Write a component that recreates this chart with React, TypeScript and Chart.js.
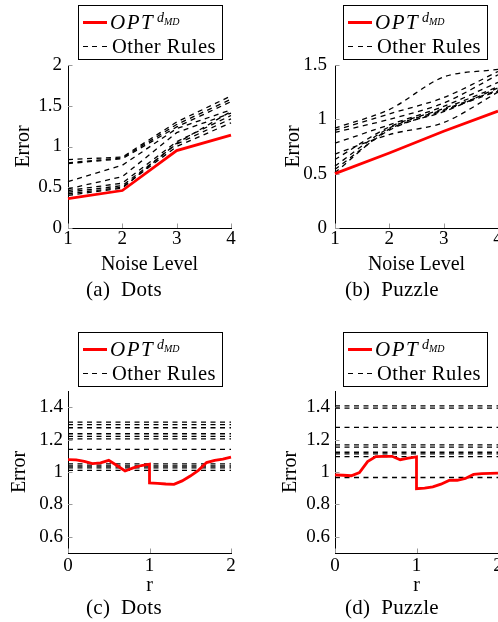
import React, { useEffect, useRef } from "react";
import { Chart, registerables } from "chart.js";

Chart.register(...registerables);

const SERIF = "'Liberation Serif', 'DejaVu Serif', serif";
const RED = "#ff0000";

// ---------- (a) Dots: error vs noise level ----------
const noiseLevels = [1, 2, 3, 4];
const noiseTickLabels = ["1", "2", "3", "4"];
const dotsNoiseOpt = [0.36, 0.46, 0.95, 1.14];
const dotsNoiseOthers = [
  [0.84, 0.87, 1.3, 1.62],
  [0.8, 0.86, 1.27, 1.58],
  [0.79, 0.85, 1.24, 1.55],
  [0.57, 0.77, 1.22, 1.45],
  [0.48, 0.63, 1.17, 1.41],
  [0.46, 0.55, 1.06, 1.38],
  [0.44, 0.52, 1.03, 1.34],
  [0.42, 0.5, 1.0, 1.29],
  [0.4, 0.49, 1.04, 1.43],
];
const dotsNoiseYTicks = [0, 0.5, 1, 1.5, 2];
const dotsNoiseYLabels = ["0", "0.5", "1", "1.5", "2"];

// ---------- (b) Puzzle: error vs noise level ----------
const puzzleNoiseOpt = [0.5, 0.69, 0.89, 1.075];
const puzzleNoiseOthers = [
  [0.92, 1.09, 1.39, 1.46],
  [0.9, 1.05, 1.2, 1.44],
  [0.88, 1.0, 1.15, 1.41],
  [0.78, 0.95, 1.12, 1.34],
  [0.68, 0.86, 0.97, 1.25],
  [0.63, 0.93, 1.1, 1.3],
  [0.57, 0.92, 1.09, 1.27],
  [0.54, 0.9, 1.08, 1.26],
  [0.51, 0.91, 1.07, 1.29],
];
const puzzleNoiseYTicks = [0, 0.5, 1, 1.5];
const puzzleNoiseYLabels = ["0", "0.5", "1", "1.5"];

// ---------- (c)/(d): error vs r ----------
const rValues = [0, 0.1, 0.2, 0.3, 0.4, 0.5, 0.6, 0.7, 0.8, 0.9, 1.0, 1.0, 1.1, 1.2, 1.3, 1.4, 1.5, 1.6, 1.7, 1.8, 1.9, 2.0];
const rTicks = [0, 1, 2];
const rTickLabels = ["0", "1", "2"];
const rYTicks = [0.6, 0.8, 1, 1.2, 1.4];
const rYLabels = ["0.6", "0.8", "1", "1.2", "1.4"];

const dotsROpt = [1.076, 1.075, 1.065, 1.052, 1.056, 1.072, 1.04, 1.006, 1.025, 1.04, 1.048, 0.932, 0.93, 0.926, 0.924, 0.945, 0.975, 1.01, 1.058, 1.072, 1.08, 1.092];
const dotsROtherLevels = [1.308, 1.293, 1.273, 1.236, 1.22, 1.205, 1.14, 1.05, 1.037, 1.025, 1.01];

const puzzleROpt = [0.982, 0.98, 0.977, 0.997, 1.064, 1.095, 1.097, 1.097, 1.076, 1.085, 1.093, 0.897, 0.9, 0.908, 0.925, 0.948, 0.949, 0.96, 0.985, 0.99, 0.991, 0.993];
const puzzleROtherLevels = [1.408, 1.394, 1.275, 1.168, 1.153, 1.122, 1.112, 1.095, 0.966];

type Series = { x: number[]; y: number[] };

type PanelSpec = {
  left: number; top: number; width: number; height: number;
  area: { l: number; t: number; r: number; b: number };
  xHeight: number; xTitlePad: number; xTickPad: number;
  yTitlePad: number; yTickPad: number;
  xMin: number; xMax: number; xTicks: number[]; xTickLabels: string[];
  yMin: number; yMax: number; yTicks: number[]; yTickLabels: string[];
  xTitle: string; tension: number;
  opt: Series; others: Series[];
};

const innerTicks = {
  id: "innerTicks",
  beforeDatasetsDraw(chart: any) {
    const { ctx, chartArea } = chart;
    const xs = chart.scales.x;
    const ys = chart.scales.y;
    ctx.save();
    ctx.strokeStyle = "#9a9a9a";
    ctx.lineWidth = 1;
    xs.ticks.forEach((t: any) => {
      const px = Math.round(xs.getPixelForValue(t.value)) + 0.5;
      ctx.beginPath();
      ctx.moveTo(px, chartArea.bottom);
      ctx.lineTo(px, chartArea.bottom - 4.5);
      ctx.stroke();
    });
    ys.ticks.forEach((t: any) => {
      const py = Math.round(ys.getPixelForValue(t.value)) + 0.5;
      ctx.beginPath();
      ctx.moveTo(chartArea.left, py);
      ctx.lineTo(chartArea.left + 4.5, py);
      ctx.stroke();
    });
    ctx.restore();
  },
};

function buildConfig(p: PanelSpec): any {
  const toPts = (s: Series) => s.x.map((x, i) => ({ x, y: s.y[i] }));
  const datasets: any[] = [
    {
      data: toPts(p.opt),
      borderColor: RED,
      borderWidth: 2.8,
      pointRadius: 0,
      tension: 0,
      fill: false,
      clip: false,
    },
  ];
  p.others.forEach((s) => {
    datasets.push({
      data: toPts(s),
      borderColor: "#000",
      borderWidth: 1.3,
      borderDash: [5, 4.5],
      pointRadius: 0,
      tension: p.tension,
      fill: false,
      clip: false,
    });
  });
  const yWidth = p.area.l - p.left;
  const tickFont = { family: SERIF, size: 19 };
  const titleFont = { family: SERIF, size: 20 };
  return {
    type: "line",
    data: { datasets },
    plugins: [innerTicks],
    options: {
      responsive: false,
      animation: false,
      events: [],
      layout: {
        padding: {
          left: 0,
          top: p.area.t - p.top,
          right: p.left + p.width - p.area.r,
          bottom: p.top + p.height - p.area.b - p.xHeight,
        },
      },
      plugins: { legend: { display: false }, tooltip: { enabled: false } },
      scales: {
        x: {
          type: "linear",
          min: p.xMin,
          max: p.xMax,
          grid: { display: false, drawTicks: false },
          border: { display: true, color: "#000", width: 1 },
          afterBuildTicks: (s: any) => {
            s.ticks = p.xTicks.map((v) => ({ value: v }));
          },
          afterFit: (s: any) => {
            s.height = p.xHeight;
            s.paddingLeft = 0;
            s.paddingRight = 0;
          },
          ticks: {
            color: "#000",
            font: tickFont,
            padding: p.xTickPad,
            maxRotation: 0,
            autoSkip: false,
            callback: (_v: any, i: number) => p.xTickLabels[i],
          },
          title: {
            display: true,
            text: p.xTitle,
            color: "#000",
            font: titleFont,
            padding: { top: 0, bottom: p.xTitlePad },
          },
        },
        y: {
          type: "linear",
          min: p.yMin,
          max: p.yMax,
          grid: { display: false, drawTicks: false },
          border: { display: true, color: "#000", width: 1 },
          afterBuildTicks: (s: any) => {
            s.ticks = p.yTicks.map((v) => ({ value: v }));
          },
          afterFit: (s: any) => {
            s.width = yWidth;
            s.paddingTop = 0;
            s.paddingBottom = 0;
          },
          ticks: {
            color: "#000",
            font: tickFont,
            padding: p.yTickPad,
            autoSkip: false,
            callback: (_v: any, i: number) => p.yTickLabels[i],
          },
          title: {
            display: true,
            text: "Error",
            color: "#000",
            font: titleFont,
            padding: { top: p.yTitlePad, bottom: 0 },
          },
        },
      },
    },
  };
}

function Panel({ spec }: { spec: PanelSpec }) {
  const ref = useRef<HTMLCanvasElement>(null);
  useEffect(() => {
    const chart = new Chart(ref.current as HTMLCanvasElement, buildConfig(spec));
    return () => chart.destroy();
  }, []);
  return (
    <canvas
      ref={ref}
      width={spec.width}
      height={spec.height}
      style={{ position: "absolute", left: spec.left, top: spec.top, width: spec.width, height: spec.height }}
    />
  );
}

function Legend({ bx, by }: { bx: number; by: number }) {
  const base = (f: number, baseline: number) => by + baseline - 0.8375 * f;
  return (
    <>
      <div
        style={{
          position: "absolute", left: bx, top: by, width: 145, height: 55,
          border: "1px solid #000", boxSizing: "border-box", background: "#fff",
        }}
      />
      <div style={{ position: "absolute", left: bx + 5, top: by + 16, width: 24, height: 3, background: RED }} />
      <div style={{ position: "absolute", left: bx + 32, top: base(21, 24.8), fontSize: 21, lineHeight: 1, fontStyle: "italic", letterSpacing: 1.5, whiteSpace: "nowrap" }}>OPT</div>
      <div style={{ position: "absolute", left: bx + 79, top: base(14, 17.5), fontSize: 14, lineHeight: 1, fontStyle: "italic", whiteSpace: "nowrap" }}>d</div>
      <div style={{ position: "absolute", left: bx + 86, top: base(10, 20.2), fontSize: 10, lineHeight: 1, fontStyle: "italic", whiteSpace: "nowrap" }}>MD</div>
      <div
        style={{
          position: "absolute", left: bx + 5, top: by + 40.5, width: 24, height: 1.4,
          background: "repeating-linear-gradient(to right, #000 0px, #000 5px, transparent 5px, transparent 9.5px)",
        }}
      />
      <div style={{ position: "absolute", left: bx + 34, top: base(20.5, 47.8), fontSize: 20.5, lineHeight: 1, letterSpacing: 0.5, whiteSpace: "nowrap" }}>Other Rules</div>
    </>
  );
}

function Caption({ cx, baseline, label, name }: { cx: number; baseline: number; label: string; name: string }) {
  const f = 21;
  return (
    <div
      style={{
        position: "absolute", left: cx - 100, width: 200, top: baseline - 0.8375 * f,
        fontSize: f, lineHeight: 1, textAlign: "center", whiteSpace: "nowrap", letterSpacing: 0.3,
      }}
    >
      {label}
      {"\u2002"}
      {name}
    </div>
  );
}

const toSeriesList = (xs: number[], rows: number[][]): Series[] => rows.map((r) => ({ x: xs, y: r }));
const levelSeries = (levels: number[]): Series[] => levels.map((v) => ({ x: [rTicks[0], rTicks[rTicks.length - 1]], y: [v, v] }));

const panelA: PanelSpec = {
  left: 0, top: 45, width: 260, height: 240,
  area: { l: 68, t: 65, r: 231, b: 228 },
  xHeight: 50, xTitlePad: 1, xTickPad: 0, yTitlePad: 12, yTickPad: 6,
  xMin: 1, xMax: 4, xTicks: noiseLevels, xTickLabels: noiseTickLabels,
  yMin: 0, yMax: 2, yTicks: dotsNoiseYTicks, yTickLabels: dotsNoiseYLabels,
  xTitle: "Noise Level", tension: 0,
  opt: { x: noiseLevels, y: dotsNoiseOpt }, others: toSeriesList(noiseLevels, dotsNoiseOthers),
};

const panelB: PanelSpec = {
  left: 265, top: 45, width: 260, height: 240,
  area: { l: 335, t: 65, r: 498, b: 228 },
  xHeight: 50, xTitlePad: 1, xTickPad: 0, yTitlePad: 17, yTickPad: 8,
  xMin: 1, xMax: 4, xTicks: noiseLevels, xTickLabels: noiseTickLabels,
  yMin: 0, yMax: 1.5, yTicks: puzzleNoiseYTicks, yTickLabels: puzzleNoiseYLabels,
  xTitle: "Noise Level", tension: 0.3,
  opt: { x: noiseLevels, y: puzzleNoiseOpt }, others: toSeriesList(noiseLevels, puzzleNoiseOthers),
};

const panelC: PanelSpec = {
  left: 0, top: 371, width: 260, height: 240,
  area: { l: 68, t: 391, r: 231, b: 553 },
  xHeight: 52, xTitlePad: 7, xTickPad: 2, yTitlePad: 8, yTickPad: 5,
  xMin: 0, xMax: 2, xTicks: rTicks, xTickLabels: rTickLabels,
  yMin: 0.5, yMax: 1.5, yTicks: rYTicks, yTickLabels: rYLabels,
  xTitle: "r", tension: 0,
  opt: { x: rValues, y: dotsROpt }, others: levelSeries(dotsROtherLevels),
};

const panelD: PanelSpec = {
  left: 265, top: 371, width: 260, height: 240,
  area: { l: 335, t: 391, r: 498, b: 553 },
  xHeight: 52, xTitlePad: 7, xTickPad: 2, yTitlePad: 14, yTickPad: 5,
  xMin: 0, xMax: 2, xTicks: rTicks, xTickLabels: rTickLabels,
  yMin: 0.5, yMax: 1.5, yTicks: rYTicks, yTickLabels: rYLabels,
  xTitle: "r", tension: 0,
  opt: { x: rValues, y: puzzleROpt }, others: levelSeries(puzzleROtherLevels),
};

export default function App() {
  return (
    <div
      style={{
        position: "fixed", left: 0, top: 0, width: 498, height: 622, overflow: "hidden",
        background: "#fff", fontFamily: SERIF, color: "#000",
      }}
    >
      <Panel spec={panelA} />
      <Panel spec={panelB} />
      <Panel spec={panelC} />
      <Panel spec={panelD} />
      <Legend bx={78} by={5} />
      <Legend bx={343} by={5} />
      <Legend bx={78} by={332} />
      <Legend bx={343} by={332} />
      <Caption cx={124} baseline={297} label="(a)" name="Dots" />
      <Caption cx={392} baseline={297} label="(b)" name="Puzzle" />
      <Caption cx={124} baseline={615} label="(c)" name="Dots" />
      <Caption cx={392} baseline={615} label="(d)" name="Puzzle" />
    </div>
  );
}
